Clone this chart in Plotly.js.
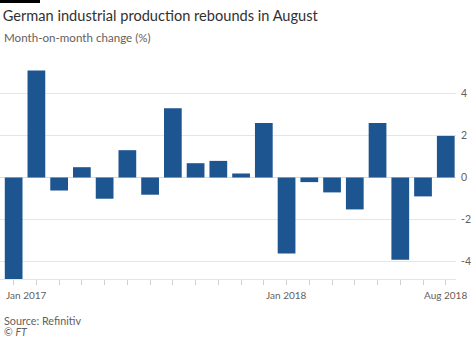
<!DOCTYPE html>
<html>
<head>
<meta charset="utf-8">
<script src="https://cdn.plot.ly/plotly-3.0.1.min.js"></script>
<style>html,body{margin:0;padding:0;background:#fff;}#chart{width:474px;height:338px;}</style>
</head>
<body>
<div id="chart"></div>
<script>
const months = ["Jan 2017","Feb 2017","Mar 2017","Apr 2017","May 2017","Jun 2017","Jul 2017","Aug 2017","Sep 2017","Oct 2017","Nov 2017","Dec 2017","Jan 2018","Feb 2018","Mar 2018","Apr 2018","May 2018","Jun 2018","Jul 2018","Aug 2018"];
const change = [-4.83, 5.09, -0.62, 0.49, -1.01, 1.30, -0.82, 3.29, 0.68, 0.79, 0.19, 2.59, -3.62, -0.22, -0.71, -1.52, 2.59, -3.92, -0.90, 1.98];
const yTicks = [-4, -2, 0, 2, 4];
const xLabels = ["Jan 2017", "Jan 2018", "Aug 2018"];

const W = 474, H = 338;
const mL = 0, mR = 18, mT = 64, mB = 59;
const plotH = H - mT - mB;
const py = (pix) => (H - mB - pix) / plotH;

const font = "Lato, 'Open Sans', sans-serif";
const grey = "#66605c";

const annotations = xLabels.map((lab, i) => ({
  x: lab, xref: "x", y: py(295), yref: "paper",
  text: lab, showarrow: false,
  xanchor: i === 0 ? "left" : "center", yanchor: "middle",
  xshift: i === 0 ? -10 : 0,
  font: {family: font, size: 10, color: grey}
}));
annotations.push({
  x: 0.004, xref: "paper", y: py(38), yref: "paper",
  text: "Month-on-month change (%)", showarrow: false,
  xanchor: "left", yanchor: "middle",
  font: {family: font, size: 11.6, color: grey}
});
annotations.push({
  x: 0.004, xref: "paper", y: py(320), yref: "paper",
  text: "Source: Refinitiv", showarrow: false,
  xanchor: "left", yanchor: "middle",
  font: {family: font, size: 10.8, color: grey}
});
annotations.push({
  x: 0.004, xref: "paper", y: py(331.5), yref: "paper",
  text: "© <i>FT</i>", showarrow: false,
  xanchor: "left", yanchor: "middle",
  font: {family: font, size: 10.5, color: grey}
});

Plotly.newPlot("chart", [{
  type: "bar",
  x: months,
  y: change,
  marker: {color: "#1d5591"},
  hoverinfo: "x+y"
}], {
  width: W, height: H,
  margin: {l: mL, r: mR, t: mT, b: mB, pad: 0},
  paper_bgcolor: "#ffffff",
  plot_bgcolor: "#ffffff",
  bargap: 0.22,
  showlegend: false,
  title: {
    text: "German industrial production rebounds in August",
    x: 0.006, xref: "paper", xanchor: "left",
    y: 1 - 16 / H, yref: "container", yanchor: "middle",
    font: {family: font, size: 14.6, color: "#33302e"}
  },
  xaxis: {
    type: "category",
    range: [-0.6, 19.45],
    showgrid: false,
    zeroline: false,
    showline: true, linecolor: "#e6e6e6", linewidth: 1,
    ticks: "outside", ticklen: 5, tickcolor: "#d0d0d0", tickwidth: 1,
    showticklabels: false,
    fixedrange: true
  },
  yaxis: {
    side: "right",
    range: [-4.83, 5.4],
    tickvals: yTicks,
    ticktext: yTicks.map(String),
    showgrid: true, gridcolor: "#e6e6e6", gridwidth: 1,
    zeroline: true, zerolinecolor: "#d9d9d9", zerolinewidth: 1,
    showline: false,
    ticks: "",
    ticklabelstandoff: 4,
    tickfont: {family: font, size: 10.5, color: grey},
    fixedrange: true
  },
  shapes: [{
    type: "rect", xref: "paper", yref: "paper",
    x0: 0, x1: 40 / (W - mL - mR), y0: py(0), y1: py(3),
    fillcolor: "#000000", line: {width: 0}
  }],
  annotations: annotations
}, {displayModeBar: false, staticPlot: true});
</script>
</body>
</html>
